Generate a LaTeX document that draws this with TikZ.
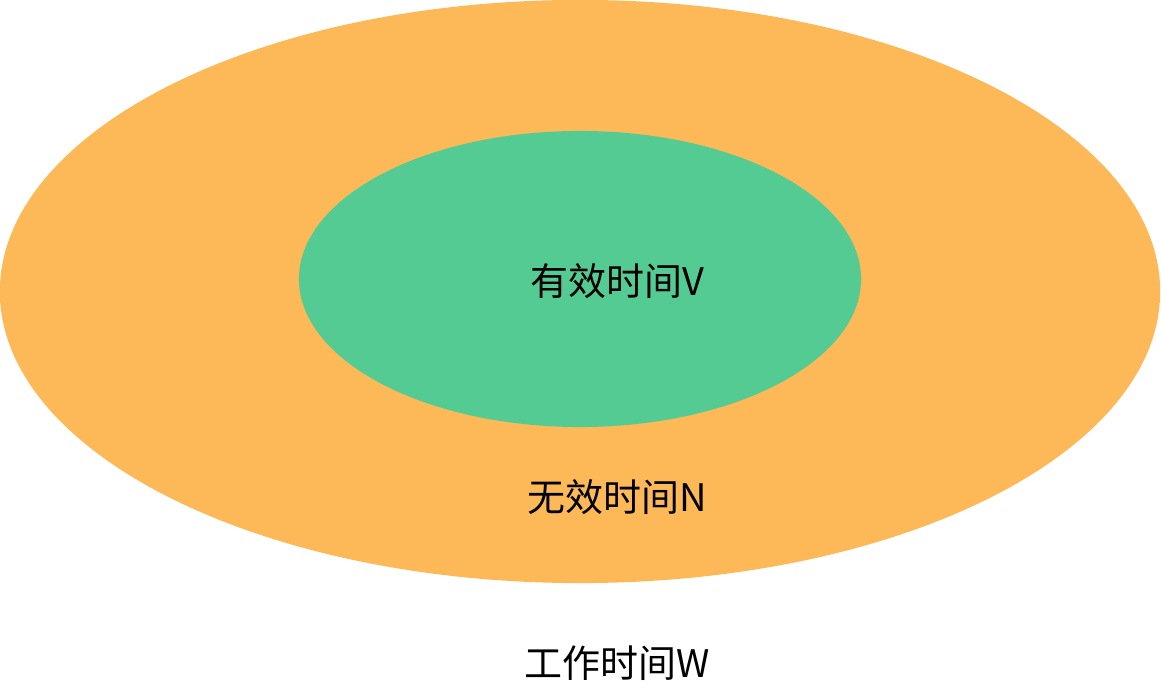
\documentclass[tikz,border=0pt]{standalone}
\usepackage{fontspec}
\setmainfont{Noto Sans CJK SC}
\usepackage{tikz}
\usetikzlibrary{shapes.geometric}

\definecolor{workorange}{HTML}{FDB957}
\definecolor{validgreen}{HTML}{55CB94}

\begin{document}
\begin{tikzpicture}[
    x=0.025cm, y=-0.025cm,
    zone/.style={ellipse, draw=none, inner sep=0pt},
    label_t/.style={font=\fontsize{27}{30}\selectfont, text=black, inner sep=0pt},
]
\useasboundingbox (0,0) rectangle (1161,694);

% Outer zone: working time
\node[zone, fill=workorange, minimum width=29cm, minimum height=14.575cm] (work) at (580,291.5) {};

% Inner zone: valid time
\node[zone, fill=validgreen, minimum width=14.05cm, minimum height=7.4cm] (valid) at (580,279) {};

% Labels
\node[label_t] (validtxt) at (617,281) {有效时间V};
\node[label_t] (invalidtxt) at (617,497) {无效时间N};
\node[label_t] (worktxt) at (617,663) {工作时间W};

\end{tikzpicture}
\end{document}
